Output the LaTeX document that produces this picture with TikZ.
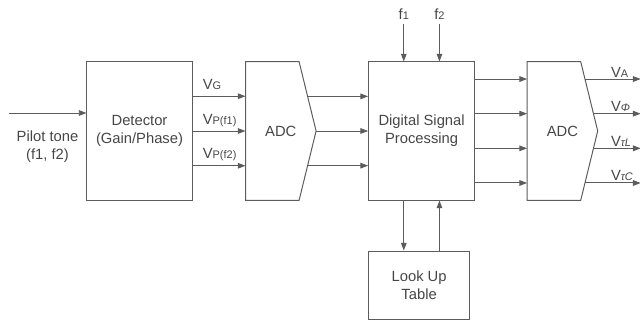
\documentclass[tikz,border=0pt]{standalone}
\usepackage{fontspec}
\setmainfont{Liberation Sans}
\usetikzlibrary{arrows.meta,positioning,calc}
\definecolor{inkgray}{RGB}{92,92,92}
\definecolor{txtgray}{RGB}{70,70,70}
\newcommand\subsc[1]{{\fontsize{7.8}{8}\selectfont #1}}

\begin{document}
\begin{tikzpicture}[
    x=0.025cm, y=-0.025cm,
    every node/.style={font=\fontsize{10.5}{12.8}\selectfont, text=txtgray},
    box/.style={draw=inkgray, line width=0.7pt, align=center, inner sep=0pt},
    adc/.style={align=center, inner sep=0pt, minimum width=1.75cm, minimum height=3.45cm},
    outline/.style={draw=inkgray, line width=0.7pt},
    arrow/.style={-{Triangle[length=5.5pt,width=4pt]}, draw=inkgray, line width=0.7pt},
    sig/.style={anchor=base west, inner sep=0pt}
]
\useasboundingbox (0,0) rectangle (640,323);

% blocks
\node[box, minimum width=2.625cm, minimum height=3.45cm] (det) at (139.5,131) {Detector\\(Gain/Phase)};
\node[adc, right=1.325cm of det] (adcA) {ADC};
\node[box, minimum width=2.65cm, minimum height=3.45cm, right=1.3cm of adcA] (dsp) {Digital Signal\\Processing};
\node[adc, right=1.3cm of dsp] (adcB) {ADC};
\node[box, minimum width=2.525cm, minimum height=1.7cm, below=1.25cm of dsp.south west, anchor=north west] (lut) {Look Up\\Table};

% converter outlines
\foreach \a in {adcA,adcB}
  \draw[outline] (\a.north west) -- ($(\a.north east)+(-17,0)$) coordinate (\a-ne)
    -- (\a.east) -- ($(\a.south east)+(-17,0)$) coordinate (\a-se) -- (\a.south west) -- cycle;

% pilot tone input
\coordinate (src) at ($(det.west)+(-77,-18)$);
\draw[arrow] (src) -- (src -| det.west);
\node[align=center] (pilot) at ($(det.west)+(-39,16)$) {Pilot tone\\(f1, f2)};

% detector outputs
\foreach \f/\nm/\txt in {0.25/vg/{V\subsc{G}}, 0.5/vpa/{V\subsc{P(f1)}}, 0.75/vpb/{V\subsc{P(f2)}}} {
  \coordinate (p) at ($(det.north east)!\f!(det.south east)$);
  \draw[arrow] (p) -- (p -| adcA.west);
  \node[sig] (\nm) at ($(p)+(10,-7)$) {\txt};
}

% ADC to DSP
\foreach \s/\e/\f in {adcA-ne/adcA.east/0.5, adcA-ne/adcA.east/1, adcA.east/adcA-se/0.5} {
  \coordinate (q) at ($(\s)!\f!(\e)$);
  \draw[arrow] (q) -- (q -| dsp.west);
}

% frequency inputs
\node[anchor=base] (f1) at ($(dsp.north west)!1/3!(dsp.north east)+(0,-42)$) {f\subsc{1}};
\node[anchor=base] (f2) at ($(dsp.north west)!2/3!(dsp.north east)+(0,-42)$) {f\subsc{2}};
\draw[arrow] (f1.south) -- (f1.south |- dsp.north);
\draw[arrow] (f2.south) -- (f2.south |- dsp.north);

% look up table
\coordinate (ta) at ($(dsp.south west)!1/3!(dsp.south east)$);
\coordinate (tb) at ($(dsp.south west)!2/3!(dsp.south east)$);
\draw[arrow] (ta) -- (ta |- lut.north);
\draw[arrow] (tb |- lut.north) -- (tb);

% DSP to ADC and outputs
\coordinate (rim) at ($(adcB.east)+(43,0)$);
\coordinate (labcol) at ($(adcB.east)+(13,0)$);
\foreach \s/\e/\f/\nm/\txt in {adcB-ne/adcB.east/0.25/va/{V\subsc{A}},
    adcB-ne/adcB.east/0.75/vphi/{V\subsc{\itshape Φ}},
    adcB.east/adcB-se/0.25/vtl/{V\subsc{\itshape τL}},
    adcB.east/adcB-se/0.75/vtc/{V\subsc{\itshape τC}}} {
  \coordinate (q) at ($(\s)!\f!(\e)$);
  \draw[arrow] (q -| dsp.east) -- (q -| adcB.west);
  \draw[arrow] (q) -- (q -| rim);
  \node[sig] (\nm) at ($(q -| labcol)+(0,-2)$) {\txt};
}
\end{tikzpicture}
\end{document}
